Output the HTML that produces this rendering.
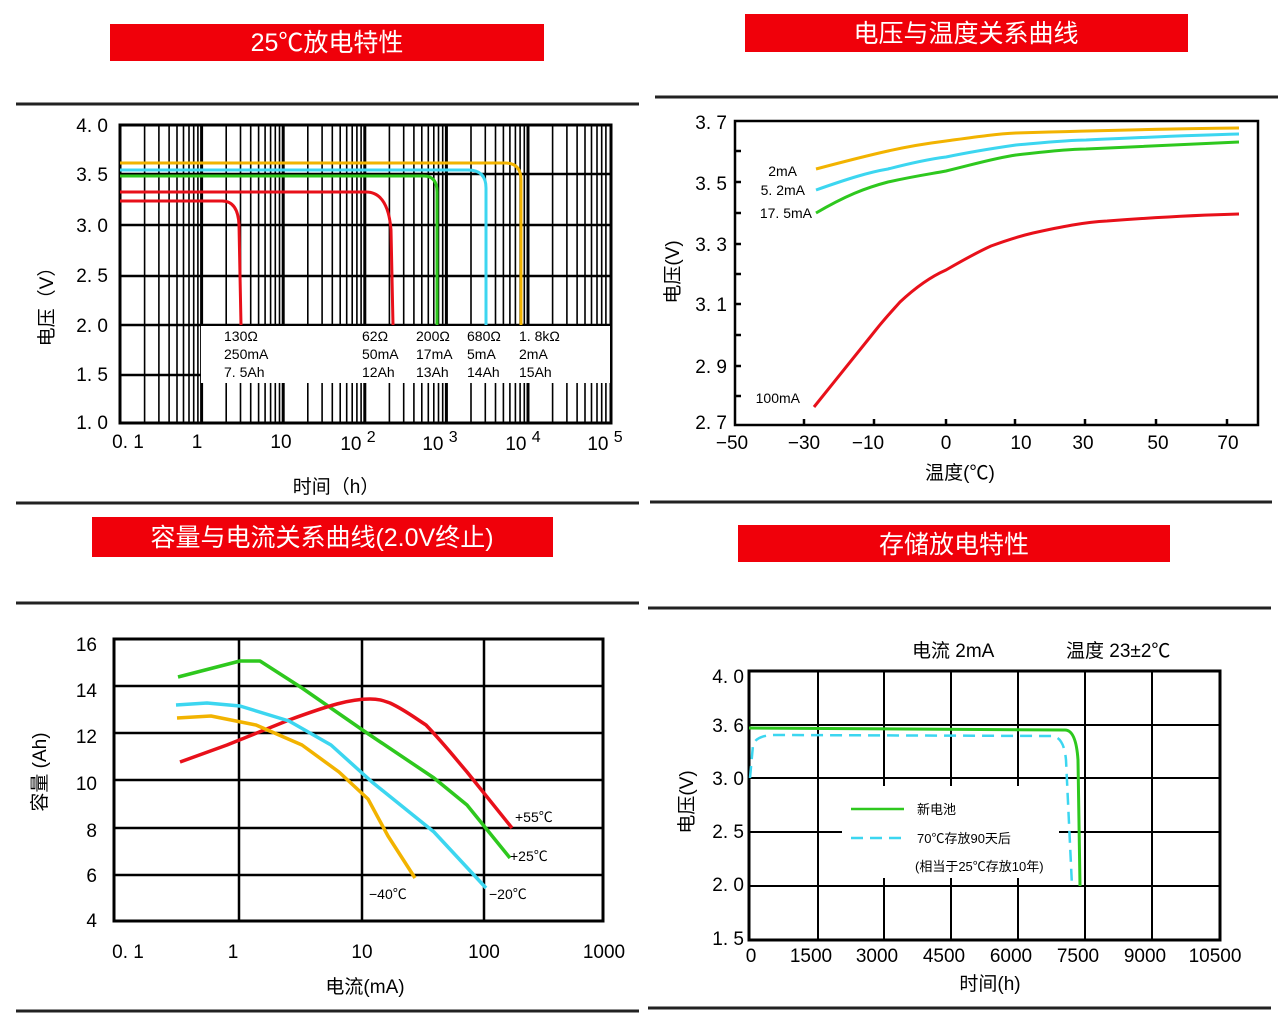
<!DOCTYPE html>
<html><head><meta charset="utf-8"><style>
html,body{margin:0;padding:0;background:#fff;}
svg{display:block;}
text{font-family:"Liberation Sans","Noto Sans CJK SC",sans-serif;fill:#000;}
.h{fill:#fff;font-size:25px;}
.t{font-size:19px;}
.s{font-size:14px;}
</style></head><body>
<svg width="1280" height="1024" viewBox="0 0 1280 1024" xmlns="http://www.w3.org/2000/svg">
<rect width="1280" height="1024" fill="#fff"/>
<!-- headers -->
<rect x="110" y="24" width="434" height="37" fill="#f0000a"/>
<text class="h" x="327" y="51" text-anchor="middle">25℃放电特性</text>
<rect x="745" y="14" width="443" height="38" fill="#f0000a"/>
<text class="h" x="966" y="42" text-anchor="middle">电压与温度关系曲线</text>
<rect x="92" y="517" width="461" height="40" fill="#f0000a"/>
<text class="h" x="322" y="546" text-anchor="middle">容量与电流关系曲线(2.0V终止)</text>
<rect x="738" y="525" width="432" height="37" fill="#f0000a"/>
<text class="h" x="954" y="553" text-anchor="middle">存储放电特性</text>
<g stroke="#222" stroke-width="3">
<line x1="16" y1="104" x2="639" y2="104"/>
<line x1="655" y1="97" x2="1278" y2="97"/>
<line x1="16" y1="503" x2="639" y2="503"/>
<line x1="650" y1="502" x2="1272" y2="502"/>
<line x1="16" y1="603" x2="639" y2="603"/>
<line x1="648" y1="608" x2="1271" y2="608"/>
<line x1="16" y1="1011" x2="639" y2="1011"/>
<line x1="648" y1="1008" x2="1271" y2="1008"/>
</g>

<!-- TOP LEFT -->
<path stroke="#000" stroke-width="1.6" fill="none" d="
M144.6 125V423M158.9 125V423M169.1 125V423M177 125V423M183.5 125V423M189 125V423M193.7 125V423M197.9 125V423
M226.2 125V423M240.5 125V423M250.7 125V423M258.6 125V423M265.1 125V423M270.6 125V423M275.3 125V423M279.5 125V423
M307.8 125V423M322.1 125V423M332.3 125V423M340.2 125V423M346.7 125V423M352.2 125V423M356.9 125V423M361.1 125V423
M389.4 125V423M403.7 125V423M413.9 125V423M421.8 125V423M428.3 125V423M433.8 125V423M438.5 125V423M442.7 125V423
M471 125V423M485.3 125V423M495.5 125V423M503.4 125V423M509.9 125V423M515.4 125V423M520.1 125V423M524.3 125V423
M552.6 125V423M566.9 125V423M577.1 125V423M585 125V423M591.5 125V423M597 125V423M601.7 125V423M605.9 125V423"/>
<path stroke="#000" stroke-width="3" fill="none" d="M201.6 125V423M283.2 125V423M364.8 125V423M446.4 125V423M528 125V423"/>
<path stroke="#000" stroke-width="2.5" fill="none" d="M120 174H611M120 225H611M120 276H611M120 325H611M120 375H611"/>
<rect x="120" y="125" width="491" height="298" fill="none" stroke="#000" stroke-width="3"/>
<rect x="201" y="326" width="409" height="57" fill="#fff"/>
<g fill="none" stroke-width="3">
<path d="M120 163 H505 Q521 163 521 180 V325" stroke="#f2b300"/>
<path d="M120 170 H468 Q486 170 486 188 V325" stroke="#3cd6f0"/>
<path d="M120 176 H424 Q437 176 437 192 V325" stroke="#2ec81e"/>
<path d="M120 192 H366 Q388 192 391 230 L393 325" stroke="#e8101a"/>
<path d="M120 201 H222 Q238 201 239 225 L241 325" stroke="#e8101a"/>
</g>
<g class="s">
<text x="224" y="341">130Ω</text><text x="224" y="359">250mA</text><text x="224" y="377">7. 5Ah</text>
<text x="362" y="341">62Ω</text><text x="362" y="359">50mA</text><text x="362" y="377">12Ah</text>
<text x="416" y="341">200Ω</text><text x="416" y="359">17mA</text><text x="416" y="377">13Ah</text>
<text x="467" y="341">680Ω</text><text x="467" y="359">5mA</text><text x="467" y="377">14Ah</text>
<text x="519" y="341">1. 8kΩ</text><text x="519" y="359">2mA</text><text x="519" y="377">15Ah</text>
</g>
<g class="t" text-anchor="end">
<text x="108" y="132">4. 0</text><text x="108" y="181">3. 5</text><text x="108" y="232">3. 0</text><text x="108" y="282">2. 5</text><text x="108" y="332">2. 0</text><text x="108" y="381">1. 5</text><text x="108" y="429">1. 0</text>
</g>
<g class="t" text-anchor="middle">
<text x="128" y="448">0. 1</text><text x="197" y="448">1</text><text x="281" y="448">10</text>
<text x="358" y="450">10 <tspan dy="-8" font-size="16">2</tspan></text>
<text x="440" y="450">10 <tspan dy="-8" font-size="16">3</tspan></text>
<text x="523" y="450">10 <tspan dy="-8" font-size="16">4</tspan></text>
<text x="605" y="450">10 <tspan dy="-8" font-size="16">5</tspan></text>
<text x="336" y="493">时间（h）</text>
</g>
<text class="t" transform="translate(53,302) rotate(-90)" text-anchor="middle">电压（V）</text>

<!-- TOP RIGHT -->
<rect x="735" y="121" width="523" height="304" fill="none" stroke="#000" stroke-width="2.5"/>
<g stroke="#000" stroke-width="2.5">
<line x1="735" y1="151" x2="741" y2="151"/><line x1="735" y1="182" x2="741" y2="182"/><line x1="735" y1="213" x2="741" y2="213"/><line x1="735" y1="244" x2="741" y2="244"/><line x1="735" y1="274" x2="741" y2="274"/><line x1="735" y1="304" x2="741" y2="304"/><line x1="735" y1="335" x2="741" y2="335"/><line x1="735" y1="366" x2="741" y2="366"/><line x1="735" y1="396" x2="741" y2="396"/>
<line x1="804" y1="419" x2="804" y2="425"/><line x1="874" y1="419" x2="874" y2="425"/><line x1="946" y1="419" x2="946" y2="425"/><line x1="1015" y1="419" x2="1015" y2="425"/><line x1="1085" y1="419" x2="1085" y2="425"/><line x1="1156" y1="419" x2="1156" y2="425"/><line x1="1227" y1="419" x2="1227" y2="425"/>
</g>
<g fill="none" stroke-width="3">
<path d="M816 169 C850 160 870 155 888 151 C910 146 930 143 946 141 C975 137 995 134 1016 133 C1080 131 1150 129 1239 128" stroke="#f2b300"/>
<path d="M816 190 C850 178 870 172 888 169 C915 162 930 159 946 157 C975 151 995 148 1016 145 C1050 142 1070 140 1086 140 C1150 137 1200 135 1239 134" stroke="#3cd6f0"/>
<path d="M816 213 C845 196 865 188 888 182 C915 176 930 174 946 171 C975 164 995 158 1016 155 C1050 151 1070 149 1086 149 C1150 146 1200 144 1239 142" stroke="#2ec81e"/>
<path d="M814 407 L871 336 C885 318 893 310 900 302 C915 288 930 277 946 270 C965 259 980 251 991 246 C1010 239 1020 236 1033 233 C1060 227 1085 222 1107 221 C1160 217 1200 215 1239 214" stroke="#e8101a"/>
</g>
<g class="s" text-anchor="end">
<text x="797" y="176">2mA</text><text x="805" y="195">5. 2mA</text><text x="812" y="218">17. 5mA</text><text x="800" y="403">100mA</text>
</g>
<g class="t" text-anchor="end">
<text x="727" y="129">3. 7</text><text x="727" y="190">3. 5</text><text x="727" y="251">3. 3</text><text x="727" y="311">3. 1</text><text x="727" y="373">2. 9</text><text x="727" y="429">2. 7</text>
</g>
<g class="t" text-anchor="middle">
<text x="732" y="449">−50</text><text x="804" y="449">−30</text><text x="868" y="449">−10</text><text x="946" y="449">0</text><text x="1021" y="449">10</text><text x="1083" y="449">30</text><text x="1158" y="449">50</text><text x="1228" y="449">70</text>
<text x="960" y="479">温度(℃)</text>
</g>
<text class="t" transform="translate(679,272) rotate(-90)" text-anchor="middle">电压(V)</text>

<!-- BOTTOM LEFT -->
<g stroke="#000" stroke-width="2.5">
<line x1="114" y1="686" x2="603" y2="686"/><line x1="114" y1="733" x2="603" y2="733"/><line x1="114" y1="780" x2="603" y2="780"/><line x1="114" y1="828" x2="603" y2="828"/><line x1="114" y1="875" x2="603" y2="875"/>
<line x1="239" y1="639" x2="239" y2="921"/><line x1="362" y1="639" x2="362" y2="921"/><line x1="484" y1="639" x2="484" y2="921"/>
</g>
<rect x="114" y="639" width="489" height="282" fill="none" stroke="#000" stroke-width="3"/>
<g fill="none" stroke-width="3.5" stroke-linejoin="round">
<path d="M178 677 L240 661 L260 661 L302 688 L364 731 L434 778 L467 805 L510 858" stroke="#2ec81e"/>
<path d="M180 762 L227 745 L289 720 C330 705 350 699 370 699 C380 699 384 701 390 703 C405 710 415 718 426 725 C445 745 455 758 467 772 L512 828" stroke="#e8101a"/>
<path d="M176 705 L207 703 L240 706 L289 721 L331 745 L372 782 L434 832 L486 888" stroke="#3cd6f0"/>
<path d="M177 718 L211 716 L256 725 L302 745 L339 772 L368 799 L388 836 L415 878" stroke="#f2b300"/>
</g>
<g class="s">
<text x="515" y="822">+55℃</text><text x="510" y="861">+25℃</text><text x="369" y="899">−40℃</text><text x="489" y="899">−20℃</text>
</g>
<g class="t" text-anchor="end" font-size="21">
<text x="97" y="651">16</text><text x="97" y="697">14</text><text x="97" y="743">12</text><text x="97" y="790">10</text><text x="97" y="837">8</text><text x="97" y="882">6</text><text x="97" y="927">4</text>
</g>
<g class="t" text-anchor="middle">
<text x="128" y="958">0. 1</text><text x="233" y="958">1</text><text x="362" y="958">10</text><text x="484" y="958">100</text><text x="604" y="958">1000</text>
<text x="365" y="993">电流(mA)</text>
</g>
<text class="t" font-size="21" transform="translate(46,772) rotate(-90)" text-anchor="middle">容量 (Ah)</text>

<!-- BOTTOM RIGHT -->
<g stroke="#000" stroke-width="2">
<line x1="749" y1="725" x2="1220" y2="725"/><line x1="749" y1="778" x2="1220" y2="778"/><line x1="749" y1="832" x2="1220" y2="832"/><line x1="749" y1="886" x2="1220" y2="886"/>
<line x1="818" y1="671" x2="818" y2="940"/><line x1="884" y1="671" x2="884" y2="940"/><line x1="951" y1="671" x2="951" y2="940"/><line x1="1018" y1="671" x2="1018" y2="940"/><line x1="1085" y1="671" x2="1085" y2="940"/><line x1="1152" y1="671" x2="1152" y2="940"/>
</g>
<rect x="842" y="786" width="217" height="92" fill="#fff"/>
<rect x="749" y="671" width="471" height="269" fill="none" stroke="#000" stroke-width="3"/>
<path d="M749 728 L1065 730 Q1076 730 1078 760 L1080 886" fill="none" stroke="#2ec81e" stroke-width="3"/>
<path d="M750 778 L753 745 Q756 735 776 735 L1052 736 Q1064 737 1066 760 L1072 886" fill="none" stroke="#3cd6f0" stroke-width="2.5" stroke-dasharray="12,7"/>
<line x1="851" y1="809" x2="904" y2="809" stroke="#2ec81e" stroke-width="2.5"/>
<line x1="851" y1="838" x2="904" y2="838" stroke="#3cd6f0" stroke-width="2.5" stroke-dasharray="12,7"/>
<g font-size="13">
<text x="917" y="814">新电池</text><text x="917" y="843">70℃存放90天后</text><text x="915" y="871">(相当于25℃存放10年)</text>
</g>
<text class="t" x="912" y="657">电流 2mA</text>
<text class="t" x="1066" y="657">温度 23±2℃</text>
<g class="t" text-anchor="end">
<text x="744" y="683">4. 0</text><text x="744" y="732">3. 6</text><text x="744" y="785">3. 0</text><text x="744" y="838">2. 5</text><text x="744" y="891">2. 0</text><text x="744" y="945">1. 5</text>
</g>
<g class="t" text-anchor="middle" font-size="18">
<text x="751" y="962">0</text><text x="811" y="962">1500</text><text x="877" y="962">3000</text><text x="944" y="962">4500</text><text x="1011" y="962">6000</text><text x="1078" y="962">7500</text><text x="1145" y="962">9000</text><text x="1215" y="962">10500</text>
<text x="990" y="990">时间(h)</text>
</g>
<text class="t" transform="translate(693,802) rotate(-90)" text-anchor="middle">电压(V)</text>
</svg>
</body></html>
